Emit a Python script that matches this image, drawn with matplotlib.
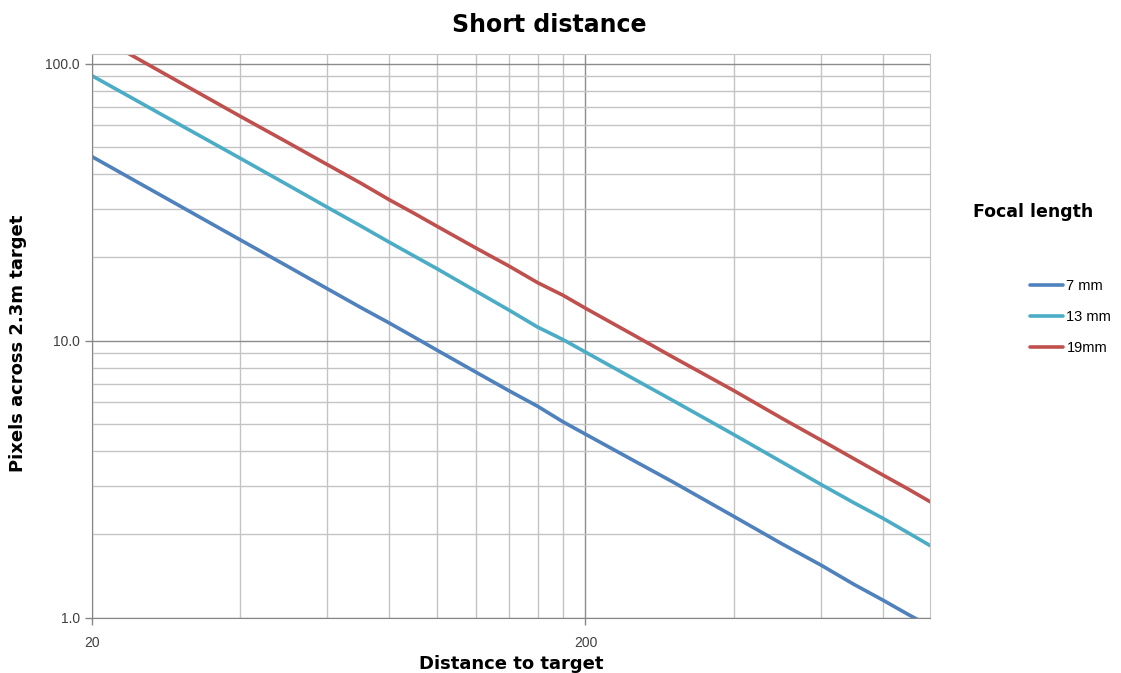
import matplotlib
matplotlib.use("Agg")
import matplotlib.pyplot as plt
from matplotlib.ticker import FixedLocator, FuncFormatter, NullFormatter

plt.rcParams['font.family'] = ['Liberation Sans', 'DejaVu Sans']

# distance to target and pixels across a 2.3m target
distance = [20, 30, 40, 50, 60, 70, 80, 90, 100, 120, 140, 160, 180, 200,
            250, 300, 400, 500, 600, 700, 800, 900, 1000]
px_7mm = [46.2, 30.8, 23.1, 18.5, 15.4, 13.2, 11.6, 10.3, 9.25, 7.7, 6.6, 5.8, 5.1, 4.6,
          3.7, 3.1, 2.32, 1.85, 1.55, 1.32, 1.16, 1.03, 0.93]
px_13mm = [90.5, 60.5, 45.5, 36.4, 30.3, 26.0, 22.7, 20.2, 18.2, 15.1, 12.9, 11.2, 10.1, 9.1,
           7.3, 6.1, 4.58, 3.65, 3.03, 2.6, 2.29, 2.03, 1.82]
px_19mm = [129, 86, 64.5, 51.8, 43.2, 37.1, 32.3, 28.8, 25.9, 21.6, 18.6, 16.2, 14.6, 13.1,
           10.5, 8.75, 6.6, 5.25, 4.38, 3.75, 3.28, 2.92, 2.62]

series = [("7 mm", px_7mm, "#4F81BD"),
          ("13 mm", px_13mm, "#4BACC6"),
          ("19mm", px_19mm, "#C0504D")]

x_major = [20, 200]
x_minor = [40, 60, 80, 100, 120, 140, 160, 180, 400, 600, 800]
y_major = [1, 10, 100]
y_minor = [2, 3, 4, 5, 6, 7, 8, 9, 20, 30, 40, 50, 60, 70, 80, 90]

bold = dict(family=['DejaVu Sans'], fontweight='bold')

fig = plt.figure(figsize=(11.21, 6.73), dpi=100)
ax = fig.add_axes([0.082, 0.082, 0.748, 0.838])

for name, vals, col in series:
    ax.plot(distance, vals, color=col, lw=2.6, label=name, solid_capstyle='round')

ax.set_xscale('log')
ax.set_yscale('log')
ax.set_xlim(20, 1000)
ax.set_ylim(1, 108.5)

ax.xaxis.set_major_locator(FixedLocator(x_major))
ax.xaxis.set_minor_locator(FixedLocator(x_minor))
ax.yaxis.set_major_locator(FixedLocator(y_major))
ax.yaxis.set_minor_locator(FixedLocator(y_minor))
ax.xaxis.set_major_formatter(FuncFormatter(lambda v, p: "%d" % v))
ax.yaxis.set_major_formatter(FuncFormatter(lambda v, p: "%.1f" % v))
ax.xaxis.set_minor_formatter(NullFormatter())
ax.yaxis.set_minor_formatter(NullFormatter())

ax.grid(which='major', color='#8c8c8c', lw=1.0)
ax.grid(which='minor', color='#c4c4c4', lw=1.0)
ax.set_axisbelow(True)

ax.tick_params(which='major', length=5, width=1, color='#868686', labelsize=10,
               labelcolor='#404040', direction='out')
ax.tick_params(axis='x', which='major', pad=8)
ax.tick_params(which='minor', length=0)

for s in ['left', 'bottom']:
    ax.spines[s].set_color('#868686')
for s in ['top', 'right']:
    ax.spines[s].set_color('#c4c4c4')

ax.set_xlabel("Distance to target", fontsize=13, labelpad=4, **bold)
fig.text(0.016, 0.49, "Pixels across 2.3m target", rotation=90, ha='center',
         va='center', fontsize=13, **bold)

fig.text(0.49, 0.963, "Short distance", ha='center', va='center',
         fontsize=17, **bold)

leg = ax.legend(loc='center left', bbox_to_anchor=(1.103, 0.533), frameon=False,
                fontsize=10.5, handlelength=2.3, handletextpad=0.2,
                labelspacing=1.15)
fig.text(0.922, 0.685, "Focal length", ha='center', va='center',
         fontsize=12.5, **bold)

fig.savefig("out.png", dpi=100)
